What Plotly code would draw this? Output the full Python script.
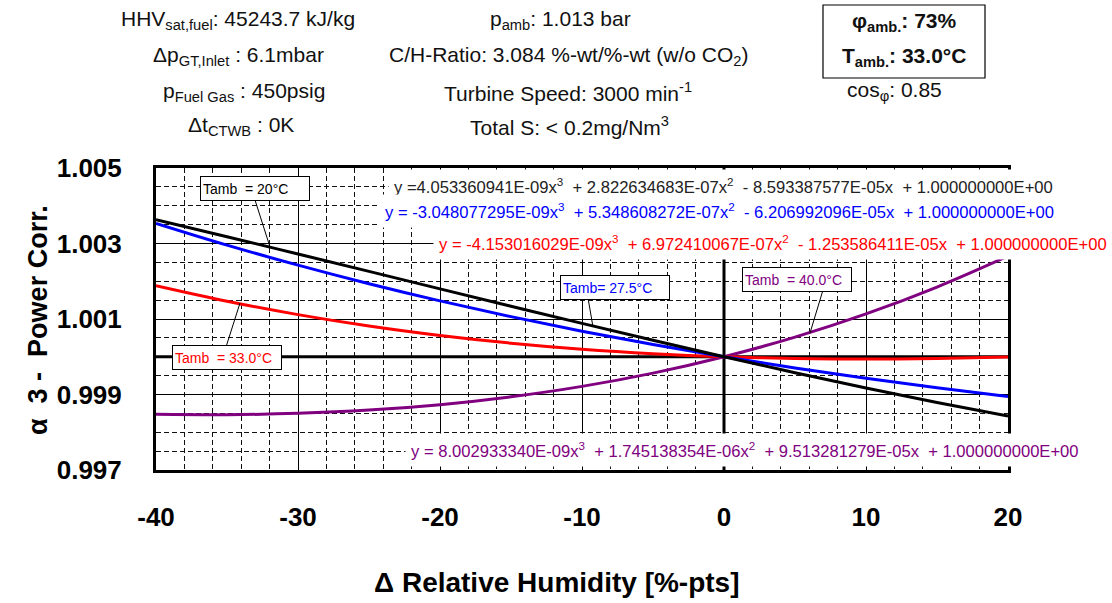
import plotly.graph_objects as go

# Change of relative humidity [%-pts]
rh_delta = [-40, -35, -30, -25, -20, -15, -10, -5, 0, 5, 10, 15, 20]

# Power correction factor alpha 3 per ambient temperature
alpha3_t20 = [1.003630, 1.003180, 1.002723, 1.002261, 1.001799, 1.001339, 1.000884,
              1.000436, 1.000000, 0.999578, 0.999173, 0.998788, 0.998427]
alpha3_t275 = [1.003534, 1.002958, 1.002426, 1.001934, 1.001480, 1.001062, 1.000677,
               1.000324, 1.000000, 0.999703, 0.999430, 0.999179, 0.998948]
alpha3_t33 = [1.001883, 1.001471, 1.001116, 1.000814, 1.000563, 1.000359, 1.000199,
              1.000081, 1.000000, 0.999954, 0.999940, 0.999955, 0.999995]
alpha3_t40 = [0.998475, 0.998465, 0.998501, 0.998587, 0.998731, 0.998939, 0.999215,
              0.999567, 1.000000, 1.000520, 1.001134, 1.001847, 1.002665]

x_ticks = [-40, -30, -20, -10, 0, 10, 20]
x_tick_labels = ["-40", "-30", "-20", "-10", "0", "10", "20"]
y_ticks = [0.997, 0.999, 1.001, 1.003, 1.005]
y_tick_labels = ["0.997", "0.999", "1.001", "1.003", "1.005"]

fit_t20 = ("y =4.053360941E-09x<sup>3</sup>  + 2.822634683E-07x<sup>2</sup>  "
           "- 8.593387577E-05x  + 1.000000000E+00")
fit_t275 = ("y = -3.048077295E-09x<sup>3</sup>  + 5.348608272E-07x<sup>2</sup>  "
            "- 6.206992096E-05x  + 1.000000000E+00")
fit_t33 = ("y = -4.153016029E-09x<sup>3</sup>  + 6.972410067E-07x<sup>2</sup>  "
           "- 1.253586411E-05x  + 1.000000000E+00")
fit_t40 = ("y = 8.002933340E-09x<sup>3</sup>  + 1.745138354E-06x<sup>2</sup>  "
           "+ 9.513281279E-05x  + 1.000000000E+00")

W, H = 1112, 603
L, R, T, B = 156, 104, 168, 133
PW, PH = W - L - R, H - T - B
X_RANGE = [-40, 20]
Y_RANGE = [0.997, 1.005]
FONT = "Liberation Sans, Arial, sans-serif"


def px(xp):
    return (xp - L) / PW


def py(yp):
    return (T + PH - yp) / PH


def dx(xp):
    return X_RANGE[0] + (xp - L) / PW * (X_RANGE[1] - X_RANGE[0])


def dy(yp):
    return Y_RANGE[0] + (T + PH - yp) / PH * (Y_RANGE[1] - Y_RANGE[0])


fig = go.Figure()

series = [
    (alpha3_t40, "#800080", "T<sub>amb</sub> = 40.0°C"),
    (alpha3_t33, "#ff0000", "T<sub>amb</sub> = 33.0°C"),
    (alpha3_t275, "#0000ff", "T<sub>amb</sub> = 27.5°C"),
    (alpha3_t20, "#000000", "T<sub>amb</sub> = 20°C"),
]
for vals, col, name in series:
    fig.add_trace(go.Scatter(
        x=rh_delta, y=vals, mode="lines", name=name,
        line=dict(color=col, width=3, shape="spline"),
        hoverinfo="skip",
    ))

grid_dash = "5px,3px"
fig.update_xaxes(
    range=X_RANGE, tickmode="array", tickvals=x_ticks, ticktext=x_tick_labels,
    showline=True, linecolor="black", linewidth=3, mirror=True,
    showgrid=True, gridcolor="black", gridwidth=1.4, zeroline=False,
    ticks="", ticklabelstandoff=22,
    tickfont=dict(family=FONT, size=26, color="black", weight="bold"),
    minor=dict(dtick=2, tick0=-40, showgrid=True, gridcolor="#111111",
               gridwidth=1.4, griddash=grid_dash),
)
fig.update_yaxes(
    range=Y_RANGE, tickmode="array", tickvals=y_ticks, ticktext=y_tick_labels,
    showline=True, linecolor="black", linewidth=3, mirror=True,
    showgrid=True, gridcolor="black", gridwidth=1.4, zeroline=False,
    ticks="", ticklabelstandoff=26,
    tickfont=dict(family=FONT, size=26, color="black", weight="bold"),
    minor=dict(dtick=0.0005, tick0=0.997, showgrid=True, gridcolor="#111111",
               gridwidth=1.4, griddash=grid_dash),
)

shapes = [
    # heavy reference lines through the origin of the correction
    dict(type="line", xref="x", yref="y", x0=X_RANGE[0], x1=X_RANGE[1], y0=1.0, y1=1.0,
         line=dict(color="black", width=3), layer="between"),
    dict(type="line", xref="x", yref="y", x0=0, x1=0, y0=Y_RANGE[0], y1=Y_RANGE[1],
         line=dict(color="black", width=3), layer="between"),
    # frame around the ambient condition box
    dict(type="rect", xref="paper", yref="paper", x0=px(823), x1=px(985),
         y0=py(78), y1=py(5), line=dict(color="black", width=1.2)),
]
# leader lines from the temperature labels to the curves
leaders = [((255, 200), (270, 247)), ((226, 347), (240, 303)),
           ((588, 298), (593, 327)), ((823, 290), (810, 333))]
for (xa, ya), (xb, yb) in leaders:
    shapes.append(dict(type="line", xref="x", yref="y", x0=dx(xa), y0=dy(ya),
                       x1=dx(xb), y1=dy(yb), line=dict(color="black", width=1)))

ann = []


def text(xp, yp, s, size=21, color="#111111", xanchor="center", **kw):
    ann.append(dict(x=px(xp), y=py(yp), xref="paper", yref="paper", text=s,
                    showarrow=False, xanchor=xanchor, yanchor="middle",
                    font=dict(family=FONT, size=size, color=color), **kw))


# operating conditions header
text(238, 20, "HHV<sub>sat,fuel</sub>: 45243.7 kJ/kg")
text(238, 56, "Δp<sub>GT,Inlet</sub> : 6.1mbar")
text(244, 92, "p<sub>Fuel Gas</sub> : 450psig")
text(241, 126, "Δt<sub>CTWB</sub> : 0K")
text(560, 20, "p<sub>amb</sub>: 1.013 bar")
text(568, 56, "C/H-Ratio: 3.084 %-wt/%-wt (w/o CO<sub>2</sub>)")
text(568, 92, "Turbine Speed: 3000 min<sup>-1</sup>")
text(569, 126, "Total S: &lt; 0.2mg/Nm<sup>3</sup>")
text(904, 22, "<b>φ<sub>amb.</sub>: 73%</b>")
text(904, 57, "<b>T<sub>amb.</sub>: 33.0°C</b>")
text(894, 91, "cos<sub>φ</sub>: 0.85")

# fitted polynomials
eq_kw = dict(bgcolor="white", borderpad=5)
text(388, 186, fit_t20, size=16.6, color="#222222", xanchor="left", **eq_kw)
text(379, 211, fit_t275, size=16.6, color="#0000ff", xanchor="left", **eq_kw)
text(433, 243, fit_t33, size=16.6, color="#ff0000", xanchor="left", **eq_kw)
text(405, 450, fit_t40, size=16.6, color="#800080", xanchor="left", **eq_kw)

# temperature labels
box_kw = dict(bgcolor="white", bordercolor="black", borderwidth=1, borderpad=2,
              width=104, height=19, align="left")
text(255, 188, "Tamb  = 20°C", size=14, color="black", **box_kw)
text(227, 357, "Tamb  = 33.0°C", size=14, color="#ff0000", **box_kw)
text(615, 287, "Tamb= 27.5°C", size=14, color="#0000ff", **box_kw)
text(797, 279, "Tamb  = 40.0°C", size=14, color="#800080", **box_kw)

# axis titles
text(557, 582, "<b>Δ Relative Humidity [%-pts]</b>", size=28, color="black")
ann.append(dict(x=px(38), y=py(320), xref="paper", yref="paper",
                text="<b>α  3 -  Power Corr.</b>", showarrow=False, textangle=-90,
                xanchor="center", yanchor="middle",
                font=dict(family=FONT, size=27, color="black")))

fig.update_layout(
    width=W, height=H,
    margin=dict(l=L, r=R, t=T, b=B, pad=0),
    paper_bgcolor="white", plot_bgcolor="white",
    showlegend=False,
    shapes=shapes, annotations=ann,
    font=dict(family=FONT),
)

fig.write_html("out.html")
